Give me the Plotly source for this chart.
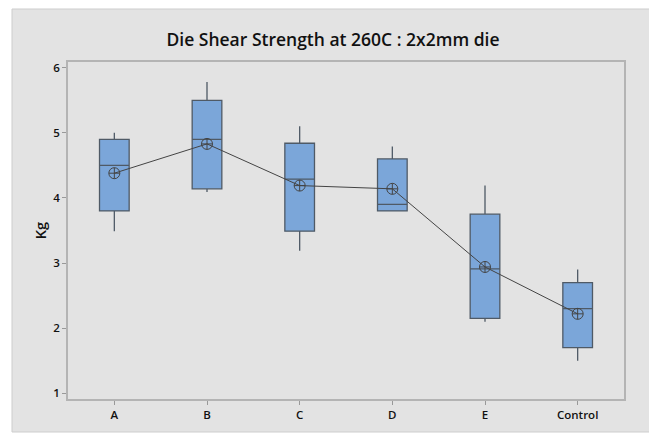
import plotly.graph_objects as go

categories = ["A", "B", "C", "D", "E", "Control"]
q1 = [3.80, 4.14, 3.49, 3.80, 2.15, 1.70]
median = [4.50, 4.90, 4.29, 3.90, 2.91, 2.30]
q3 = [4.90, 5.50, 4.84, 4.60, 3.75, 2.70]
lower = [3.49, 4.09, 3.19, 3.80, 2.10, 1.50]
upper = [5.00, 5.78, 5.10, 4.79, 4.19, 2.90]
means = [4.38, 4.83, 4.19, 4.14, 2.94, 2.22]
yticks = [1, 2, 3, 4, 5, 6]

FONT = "Open Sans"
# page body adds an 8px margin; figure is sized/offset to compensate
W, H = 649, 425
L, R, T, B = 60, 33, 54, 34
PW, PH = W - L - R, H - T - B

fig = go.Figure()
fig.add_trace(go.Box(
    x=categories, q1=q1, median=median, q3=q3,
    lowerfence=lower, upperfence=upper,
    boxpoints=False, width=0.32, whiskerwidth=0,
    fillcolor="#7BA6D9", line=dict(color="#4F5A66", width=1.3),
    showlegend=False,
))
fig.add_trace(go.Scatter(
    x=categories, y=means, mode="lines+markers",
    line=dict(color="#444444", width=1),
    marker=dict(symbol="circle-cross-open", size=11, color="#444444",
                line=dict(width=1, color="#444444")),
    showlegend=False,
))

fig.update_layout(
    width=W, height=H,
    margin=dict(l=L, r=R, t=T, b=B),
    paper_bgcolor="white", plot_bgcolor="white",
    title=dict(text="Die Shear Strength at 260C : 2x2mm die",
               x=(333 - 8) / W, xanchor="center", y=1 - 32 / H, yanchor="middle",
               font=dict(family=FONT, size=17.5, color="#111111", weight=600)),
    shapes=[dict(type="rect", xref="paper", yref="paper",
                 x0=(4 - L) / PW, x1=(646 - L) / PW,
                 y0=((H - B) - 424) / PH, y1=((H - B) - 1) / PH,
                 fillcolor="#E3E3E3", line=dict(color="#CDCDCD", width=1),
                 layer="below")],
    xaxis=dict(type="category", range=[-0.5, 5.5],
               showline=True, mirror=True, linecolor="#B4B4B4", linewidth=1.5,
               ticks="outside", ticklen=4, tickcolor="#999999",
               showgrid=False, zeroline=False,
               tickfont=dict(family=FONT, size=11.5, color="#111111", weight=600)),
    yaxis=dict(range=[0.912, 6.088], tickvals=yticks,
               showline=True, mirror=True, linecolor="#B4B4B4", linewidth=1.5,
               ticks="outside", ticklen=4, tickcolor="#999999",
               showgrid=False, zeroline=False,
               tickfont=dict(family=FONT, size=11.5, color="#111111", weight=600),
               title=dict(text="Kg", standoff=3,
                          font=dict(family=FONT, size=14.5, color="#111111", weight=600))),
)
fig.write_html("out.html")
